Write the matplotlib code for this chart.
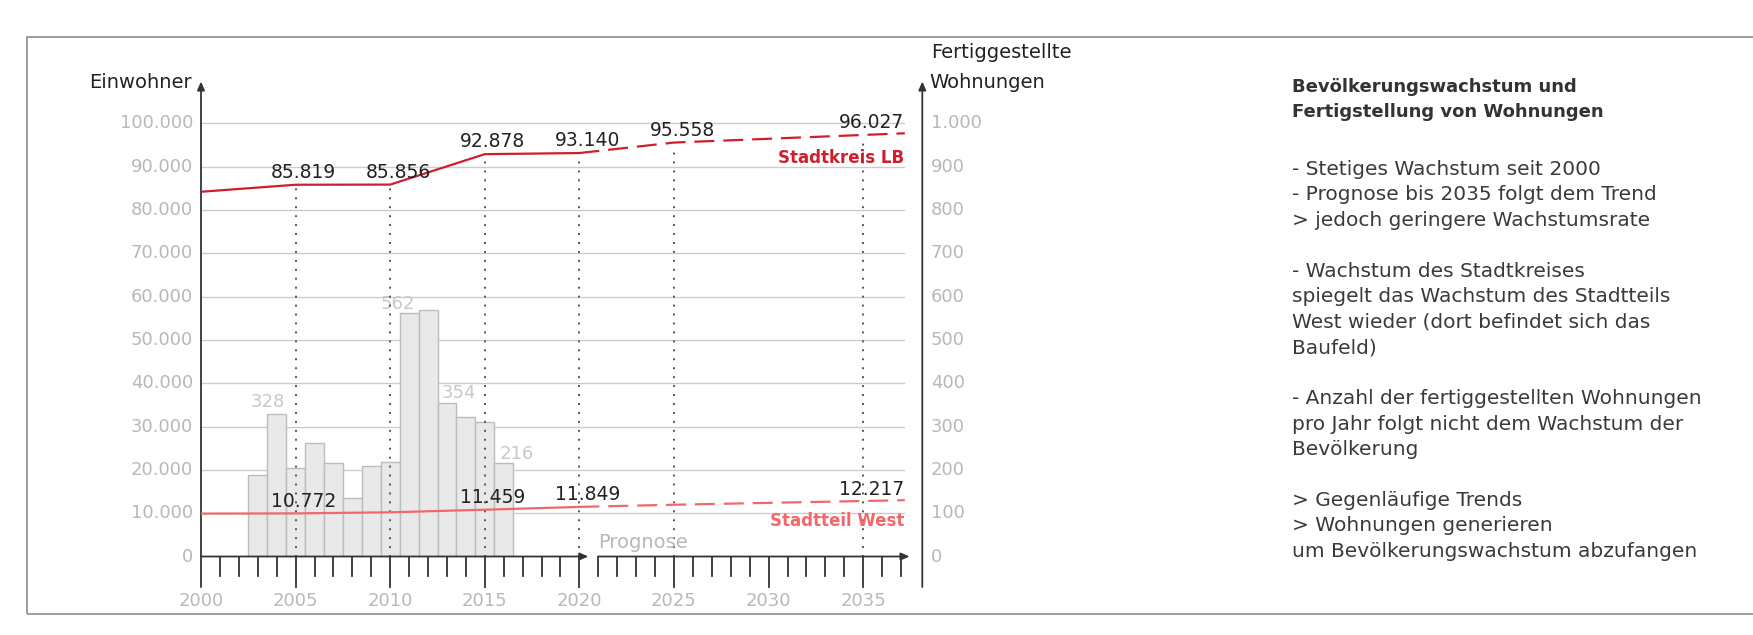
import numpy as np
import matplotlib.pyplot as plt
from matplotlib.patches import Rectangle

# Fertiggestellte Wohnungen pro Jahr (rechte Achse)
bar_years = list(range(2003, 2017))
wohnungen = [187, 328, 204, 261, 216, 134, 209, 217, 562, 568, 354, 321, 311, 216]
bar_label_years = [2004, 2011, 2013, 2016]
bar_labels = ['328', '562', '354', '216']

# Einwohner Stadtkreis LB
lb_years = [2000, 2005, 2010, 2015, 2020]
lb_values = [84200, 85819, 85856, 92878, 93140]
lb_prog_years = [2020, 2025, 2037.2]
lb_prog_values = [93140, 95558, 97700]
lb_label_years = [2005, 2010, 2015, 2020, 2025, 2035]
lb_labels = ['85.819', '85.856', '92.878', '93.140', '95.558', '96.027']

# Einwohner Stadtteil West
west_years = [2000, 2005, 2010, 2015, 2020]
west_values = [9900, 9950, 10200, 10800, 11450]
west_prog_years = [2020, 2025, 2037.2]
west_prog_values = [11450, 11950, 13000]
west_label_years = [2005, 2015, 2020, 2035]
west_labels = ['10.772', '11.459', '11.849', '12.217']

left_ticks = list(range(0, 100001, 10000))
left_ticklabels = ['0', '10.000', '20.000', '30.000', '40.000', '50.000',
                   '60.000', '70.000', '80.000', '90.000', '100.000']
right_ticks = list(range(0, 1001, 100))
right_ticklabels = ['0', '100', '200', '300', '400', '500',
                    '600', '700', '800', '900', '1.000']
year_ticks = [2000, 2005, 2010, 2015, 2020, 2025, 2030, 2035]
dotted_years = [2005, 2010, 2015, 2020, 2025, 2035]

notes_title = ['Bevölkerungswachstum und', 'Fertigstellung von Wohnungen']
notes = ['- Stetiges Wachstum seit 2000',
         '- Prognose bis 2035 folgt dem Trend',
         '> jedoch geringere Wachstumsrate',
         '',
         '- Wachstum des Stadtkreises',
         'spiegelt das Wachstum des Stadtteils',
         'West wieder (dort befindet sich das',
         'Baufeld)',
         '',
         '- Anzahl der fertiggestellten Wohnungen',
         'pro Jahr folgt nicht dem Wachstum der',
         'Bevölkerung',
         '',
         '> Gegenläufige Trends',
         '> Wohnungen generieren',
         'um Bevölkerungswachstum abzufangen']

RED = '#cf1f2d'
SALMON = '#f2676c'
AXIS = '#333333'
GRAY_TXT = '#b8b8b8'
W, H = 1753, 635

plt.rcParams['font.family'] = ['DejaVu Sans']
fig = plt.figure(figsize=(W / 100, H / 100), dpi=100)

# pixel layout of the plot area
x0_px, x1_px = 201, 910.5
y0_px, ytop_px = 556.5, 80
ax = fig.add_axes([x0_px / W, 1 - y0_px / H, (x1_px - x0_px) / W, (y0_px - ytop_px) / H])
ax.set_xlim(2000, 2037.5)
ax.set_ylim(0, 110000)
ax.axis('off')
px_x = 37.5 / (x1_px - x0_px)      # years per pixel
px_y = 110000 / (y0_px - ytop_px)  # inhabitants per pixel

# bars live on a twin axis drawn underneath
ax2 = ax.twinx()
ax2.set_ylim(0, 1100)
ax2.axis('off')
ax.set_zorder(ax2.get_zorder() + 1)
ax.patch.set_visible(False)

# gridlines (behind the bars)
for t in right_ticks[1:]:
    ax2.plot([2000, 2037.15], [t, t], color='#cccccc', lw=1, zorder=1)

ax2.bar(bar_years, wohnungen, width=1.0, color='#e9e9e9', edgecolor='#bcbcbc', lw=1, zorder=2)
bar_dx = {2004: -0.45, 2011: -0.62, 2013: 0.64, 2016: 0.7}
bar_dy = {2004: 16, 2011: 10, 2013: 12, 2016: 8}
for yr, lab in zip(bar_label_years, bar_labels):
    v = wohnungen[bar_years.index(yr)]
    ax2.text(yr + bar_dx[yr], v + bar_dy[yr], lab, ha='center', va='baseline',
             color='#c8c8c8', fontsize=13, zorder=6)

# dotted verticals
all_lb_x = lb_years + lb_prog_years[1:]
all_lb_y = lb_values + lb_prog_values[1:]
for yr in dotted_years:
    top = np.interp(yr, all_lb_x, all_lb_y) - 700
    ax.plot([yr, yr], [0, top], color='#555555', lw=1.4, ls=(0, (1, 3.6)), zorder=3)

# lines
ax.plot(lb_years, lb_values, color=RED, lw=1.6, zorder=5)
ax.plot(lb_prog_years, lb_prog_values, color=RED, lw=1.6, ls=(0, (9, 4)), zorder=5)
ax.plot(west_years, west_values, color=SALMON, lw=1.6, zorder=5)
ax.plot(west_prog_years, west_prog_values, color=SALMON, lw=1.6, ls=(0, (9, 4)), zorder=5)

for yr, lab in zip(lb_label_years, lb_labels):
    v = np.interp(yr, all_lb_x, all_lb_y)
    ax.text(yr + 8 * px_x, v + 7 * px_y, lab, ha='center', va='baseline',
            color='#222222', fontsize=13.5, zorder=7)
all_w_x = west_years + west_prog_years[1:]
all_w_y = west_values + west_prog_values[1:]
for yr, lab in zip(west_label_years, west_labels):
    v = np.interp(yr, all_w_x, all_w_y)
    ax.text(yr + 8 * px_x, v + 6.5 * px_y, lab, ha='center', va='baseline',
            color='#222222', fontsize=13.5, zorder=7)

ax.text(2037.15, (y0_px - 163) * px_y, 'Stadtkreis LB', ha='right', va='baseline',
        color=RED, fontsize=12, fontweight='bold', zorder=7)
ax.text(2037.15, (y0_px - 526) * px_y, 'Stadtteil West', ha='right', va='baseline',
        color=SALMON, fontsize=12, fontweight='bold', zorder=7)
ax.text(2020.98, (y0_px - 548) * px_y, 'Prognose', ha='left', va='baseline',
        color=GRAY_TXT, fontsize=14, zorder=7)

# axes drawn by hand
arrow = dict(arrowstyle='-|>,head_length=0.5,head_width=0.22', color=AXIS, lw=1.3,
             shrinkA=0, shrinkB=0)
minor_len = 19 * px_y
major_len = 30.5 * px_y
ax.annotate('', xy=(2000, (y0_px - 81.5) * px_y), xytext=(2000, -major_len),
            arrowprops=arrow, annotation_clip=False)
ax.annotate('', xy=(2020.47, 0), xytext=(2000, 0), arrowprops=arrow, annotation_clip=False)
ax.annotate('', xy=(2037.45, 0), xytext=(2021, 0), arrowprops=arrow, annotation_clip=False)
right_x = 2000 + (922.3 - x0_px) * px_x
ax.annotate('', xy=(right_x, (y0_px - 81.5) * px_y), xytext=(right_x, -major_len),
            arrowprops=arrow, annotation_clip=False)
for yr in list(range(2001, 2021)) + list(range(2021, 2038)):
    ln = major_len if yr % 5 == 0 else minor_len
    ax.plot([yr, yr], [0, -ln], color=AXIS, lw=1.3, clip_on=False, zorder=4)

for yr in year_ticks:
    ax.text(yr, -(601.5 - y0_px) * px_y, str(yr), ha='center', va='center',
            color=GRAY_TXT, fontsize=13)
for t, lab in zip(left_ticks, left_ticklabels):
    ax.text(2000 - 8 * px_x, t, lab, ha='right', va='center', color=GRAY_TXT, fontsize=13)
for t, lab in zip(right_ticks, right_ticklabels):
    ax2.text(2000 + (931 - x0_px) * px_x, t, lab, ha='left', va='center',
             color=GRAY_TXT, fontsize=13, clip_on=False)

ax.text(2000 - 9 * px_x, (y0_px - 83) * px_y, 'Einwohner', ha='right', va='center',
        color='#222222', fontsize=14)
ax.text(2000 + (929 - x0_px) * px_x, (y0_px - 82) * px_y, 'Wohnungen', ha='left', va='center',
        color='#222222', fontsize=14)
ax.text(2000 + (931 - x0_px) * px_x, (y0_px - 53) * px_y, 'Fertiggestellte', ha='left',
        va='center', color='#222222', fontsize=14)

# frame
fig.patches.append(Rectangle((27 / W, 1 - 614 / H), 1.0, (614 - 37) / H, transform=fig.transFigure,
                             fill=False, edgecolor='#8c8c8c', lw=1.2))

# notes panel
tx = 1291.5 / W
for i, line in enumerate(notes_title):
    fig.text(tx, 1 - (91.7 + 25 * i) / H, line, ha='left', va='baseline',
             fontsize=13, fontweight='bold', color='#333333')
for i, line in enumerate(notes):
    fig.text(tx, 1 - (175 + 25.45 * i) / H, line, ha='left', va='baseline',
             fontsize=14.5, color='#3a3a3a')

fig.savefig('out.png', dpi=100)
